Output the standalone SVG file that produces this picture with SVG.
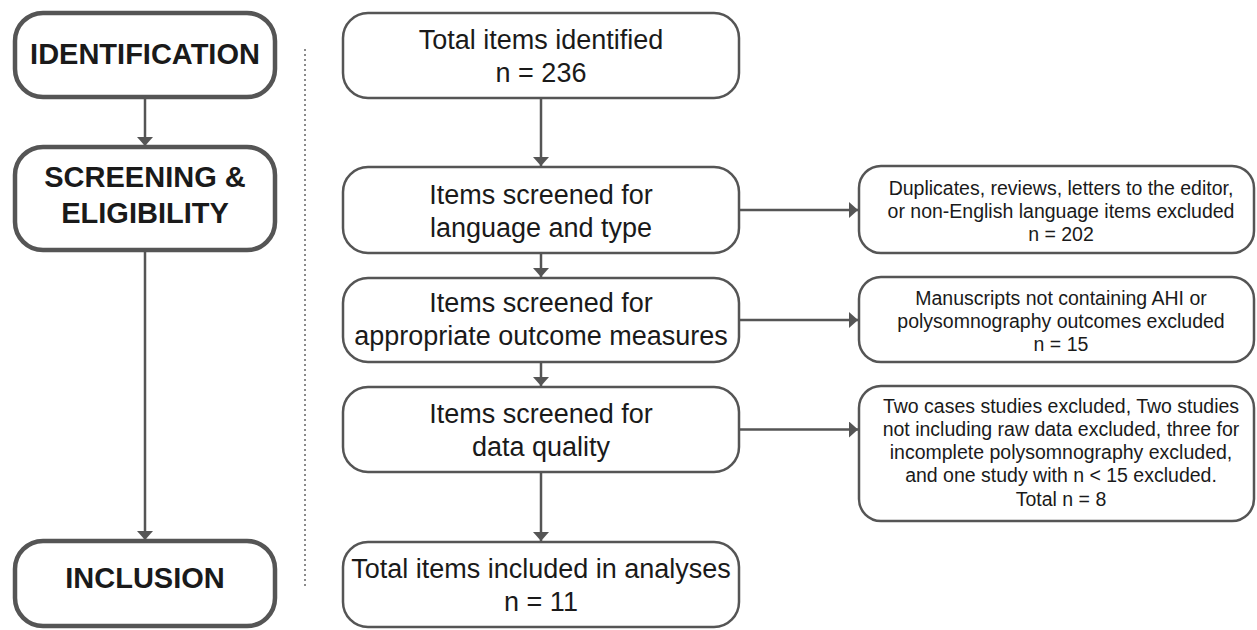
<svg xmlns="http://www.w3.org/2000/svg" width="1257" height="630" viewBox="0 0 1257 630">
<style>
.stage rect{fill:#fff;stroke:#555;stroke-width:4.5}
.box rect{fill:#fff;stroke:#555;stroke-width:2.5}
.stage text{font-family:"Liberation Sans",Arial,sans-serif;font-weight:bold;font-size:29px;fill:#1a1a1a;text-anchor:middle}
.main text{font-family:"Liberation Sans",Arial,sans-serif;font-size:27px;fill:#1a1a1a;text-anchor:middle}
.side text{font-family:"Liberation Sans",Arial,sans-serif;font-size:19.5px;fill:#1a1a1a;text-anchor:middle}
.conn line{stroke:#555;stroke-width:2.5;fill:none}
</style>
<defs>
<marker id="ah" markerUnits="userSpaceOnUse" markerWidth="9" markerHeight="16" refX="9" refY="8" orient="auto">
<path d="M0,0 L9,8 L0,16 z" fill="#555"/>
</marker>
</defs>
<rect width="1257" height="630" fill="#fff"/>
<line x1="305" y1="49" x2="305" y2="588" stroke="#666" stroke-width="1.5" stroke-dasharray="2,3"/>
<g id="connectors" class="conn">
<line x1="145" y1="99" x2="145" y2="146" marker-end="url(#ah)"/>
<line x1="145" y1="252" x2="145" y2="540" marker-end="url(#ah)"/>
<line x1="541" y1="99" x2="541" y2="166" marker-end="url(#ah)"/>
<line x1="541" y1="254" x2="541" y2="277" marker-end="url(#ah)"/>
<line x1="541" y1="363" x2="541" y2="386" marker-end="url(#ah)"/>
<line x1="541" y1="473" x2="541" y2="541" marker-end="url(#ah)"/>
<line x1="740" y1="210" x2="858" y2="210" marker-end="url(#ah)"/>
<line x1="740" y1="320" x2="858" y2="320" marker-end="url(#ah)"/>
<line x1="740" y1="429.5" x2="858" y2="429.5" marker-end="url(#ah)"/>
</g>
<g id="identification" class="stage">
<rect x="15" y="13" width="260" height="84" rx="28"/>
<text x="145" y="64">IDENTIFICATION</text>
</g>
<g id="screening" class="stage">
<rect x="15" y="147" width="260" height="103" rx="28"/>
<text x="145" y="187">SCREENING &amp;</text>
<text x="145" y="223">ELIGIBILITY</text>
</g>
<g id="inclusion" class="stage">
<rect x="15" y="541" width="260" height="85" rx="28"/>
<text x="145" y="588">INCLUSION</text>
</g>
<g id="total-identified" class="box main">
<rect x="343" y="13" width="396" height="85" rx="25"/>
<text x="541" y="49">Total items identified</text>
<text x="541" y="82">n = 236</text>
</g>
<g id="screen-language" class="box main">
<rect x="343" y="167" width="396" height="86" rx="25"/>
<text x="541" y="204">Items screened for</text>
<text x="541" y="237">language and type</text>
</g>
<g id="screen-outcome" class="box main">
<rect x="343" y="278" width="396" height="84" rx="25"/>
<text x="541" y="312">Items screened for</text>
<text x="541" y="345">appropriate outcome measures</text>
</g>
<g id="screen-quality" class="box main">
<rect x="343" y="387" width="396" height="85" rx="25"/>
<text x="541" y="423">Items screened for</text>
<text x="541" y="456">data quality</text>
</g>
<g id="total-included" class="box main">
<rect x="343" y="542" width="396" height="85" rx="25"/>
<text x="541" y="578">Total items included in analyses</text>
<text x="541" y="611">n = 11</text>
</g>
<g id="excluded-language" class="box side">
<rect x="859" y="166" width="395" height="87" rx="22"/>
<text x="1061" y="195">Duplicates, reviews, letters to the editor,</text>
<text x="1061" y="218">or non-English language items excluded</text>
<text x="1061" y="241">n = 202</text>
</g>
<g id="excluded-outcome" class="box side">
<rect x="859" y="277" width="395" height="85" rx="22"/>
<text x="1061" y="305">Manuscripts not containing AHI or</text>
<text x="1061" y="328">polysomnography outcomes excluded</text>
<text x="1061" y="351">n = 15</text>
</g>
<g id="excluded-quality" class="box side">
<rect x="859" y="386" width="395" height="135" rx="22"/>
<text x="1061" y="413">Two cases studies excluded, Two studies</text>
<text x="1061" y="436">not including raw data excluded, three for</text>
<text x="1061" y="459">incomplete polysomnography excluded,</text>
<text x="1061" y="482">and one study with n &lt; 15 excluded.</text>
<text x="1061" y="506">Total n = 8</text>
</g>
</svg>
